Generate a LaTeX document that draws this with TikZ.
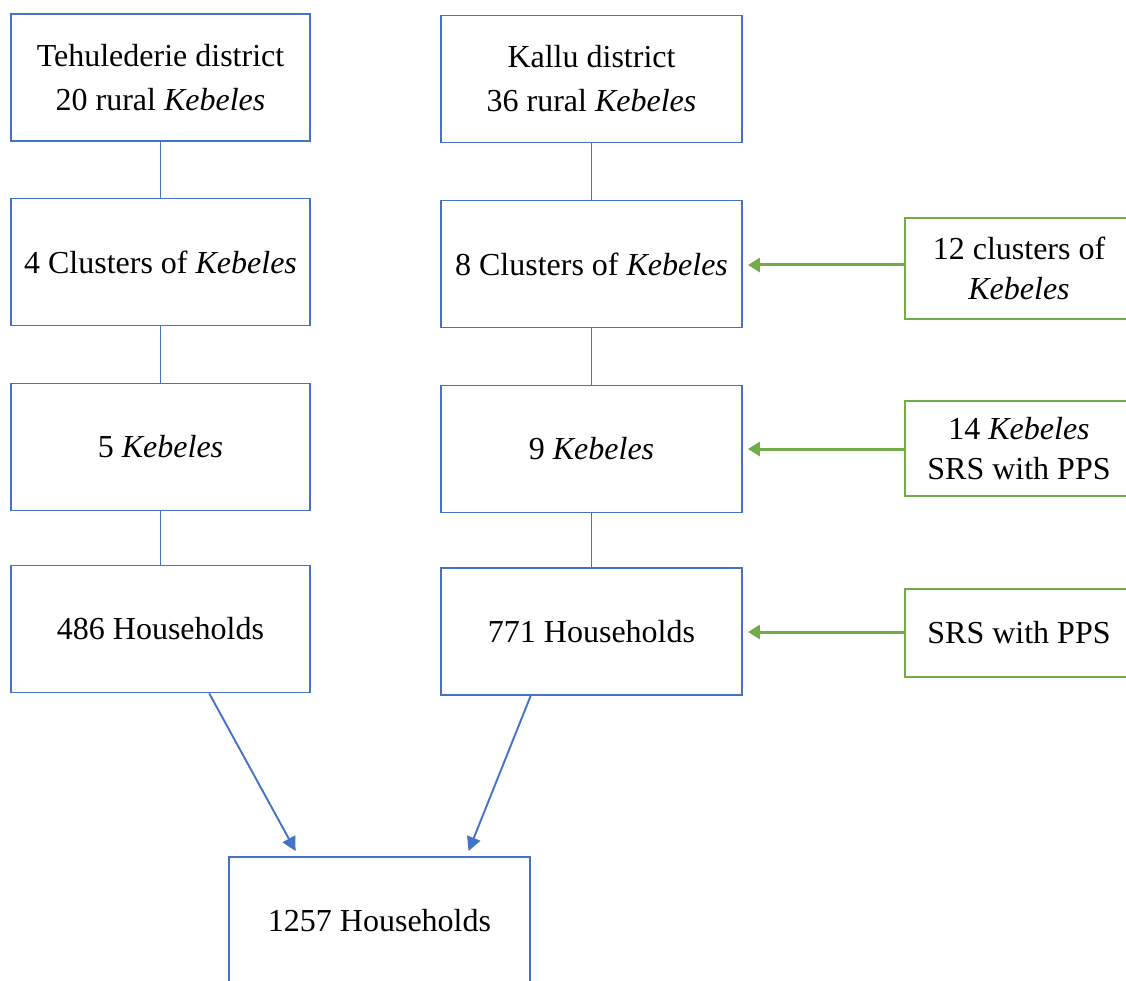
\documentclass[tikz,border=0pt]{standalone}
\usepackage{fontspec}
\setmainfont{Liberation Serif}
\usetikzlibrary{arrows.meta,calc}
\definecolor{boxblue}{RGB}{68,114,196}
\definecolor{boxgreen}{RGB}{112,173,71}
\begin{document}
\begin{tikzpicture}[x=1pt,y=-1pt,
  stage/.style={draw=boxblue,line width=1.9pt,minimum width=299pt,minimum height=127pt,
    inner sep=0pt,align=center,font=\fontsize{32}{44}\selectfont},
  method/.style={draw=boxgreen,line width=1.9pt,inner sep=0pt,align=center,
    font=\fontsize{32}{40}\selectfont},
  link/.style={draw=boxblue,line width=1.9pt},
  merge/.style={draw=boxblue,line width=1.9pt,-{Triangle[length=14pt,width=14pt]}},
  pick/.style={draw=boxgreen,line width=3pt,-{Triangle[length=12pt,width=14pt]}}]
\useasboundingbox (0,0) rectangle (1126,981);
\clip (0,0) rectangle (1126,981);

% Tehulederie district column
\node[stage] (l1) at (160.5,77.5) {Tehulederie district\\20 rural \textit{Kebeles}};
\node[stage] (l2) at (160.5,262) {4 Clusters of \textit{Kebeles}};
\node[stage] (l3) at (160.5,447) {5 \textit{Kebeles}};
\node[stage] (l4) at (160.5,629) {486 Households};

% Kallu district column
\node[stage,minimum width=301pt] (r1) at (591.5,79) {Kallu district\\36 rural \textit{Kebeles}};
\node[stage,minimum width=301pt] (r2) at (591.5,264) {8 Clusters of \textit{Kebeles}};
\node[stage,minimum width=301pt] (r3) at (591.5,449) {9 \textit{Kebeles}};
\node[stage,minimum width=301pt] (r4) at (591.5,631.5) {771 Households};

% sampling methods
\node[method,minimum width=228pt,minimum height=101pt] (g1) at (1019,268.5) {12 clusters of\\\textit{Kebeles}};
\node[method,minimum width=228pt,minimum height=95pt] (g2) at (1019,448.5) {14 \textit{Kebeles}\\SRS with PPS};
\node[method,minimum width=228pt,minimum height=88pt] (g3) at (1019,633) {SRS with PPS};

% pooled sample
\node[stage,minimum width=301pt] (b) at (379.5,920.5) {1257 Households};

% column links
\draw[link] (l1) -- (l2);
\draw[link] (l2) -- (l3);
\draw[link] (l3) -- (l4);
\draw[link] (r1) -- (r2);
\draw[link] (r2) -- (r3);
\draw[link] (r3) -- (r4);

% method arrows
\draw[pick] (g1.west |- 0,265) -- ($(r2.east |- 0,265)+(5,0)$);
\draw[pick] (g2.west |- 0,449) -- ($(r3.east |- 0,449)+(5,0)$);
\draw[pick] (g3.west |- 0,632) -- ($(r4.east |- 0,632)+(5,0)$);

% merge arrows
\draw[merge] ($(l4.south west)!0.662!(l4.south east)$) -- ($(b.north west)!0.223!(b.north east)+(0,-5)$);
\draw[merge] ($(r4.south west)!0.299!(r4.south east)$) -- ($(b.north west)!0.794!(b.north east)+(0,-5)$);
\end{tikzpicture}
\end{document}
